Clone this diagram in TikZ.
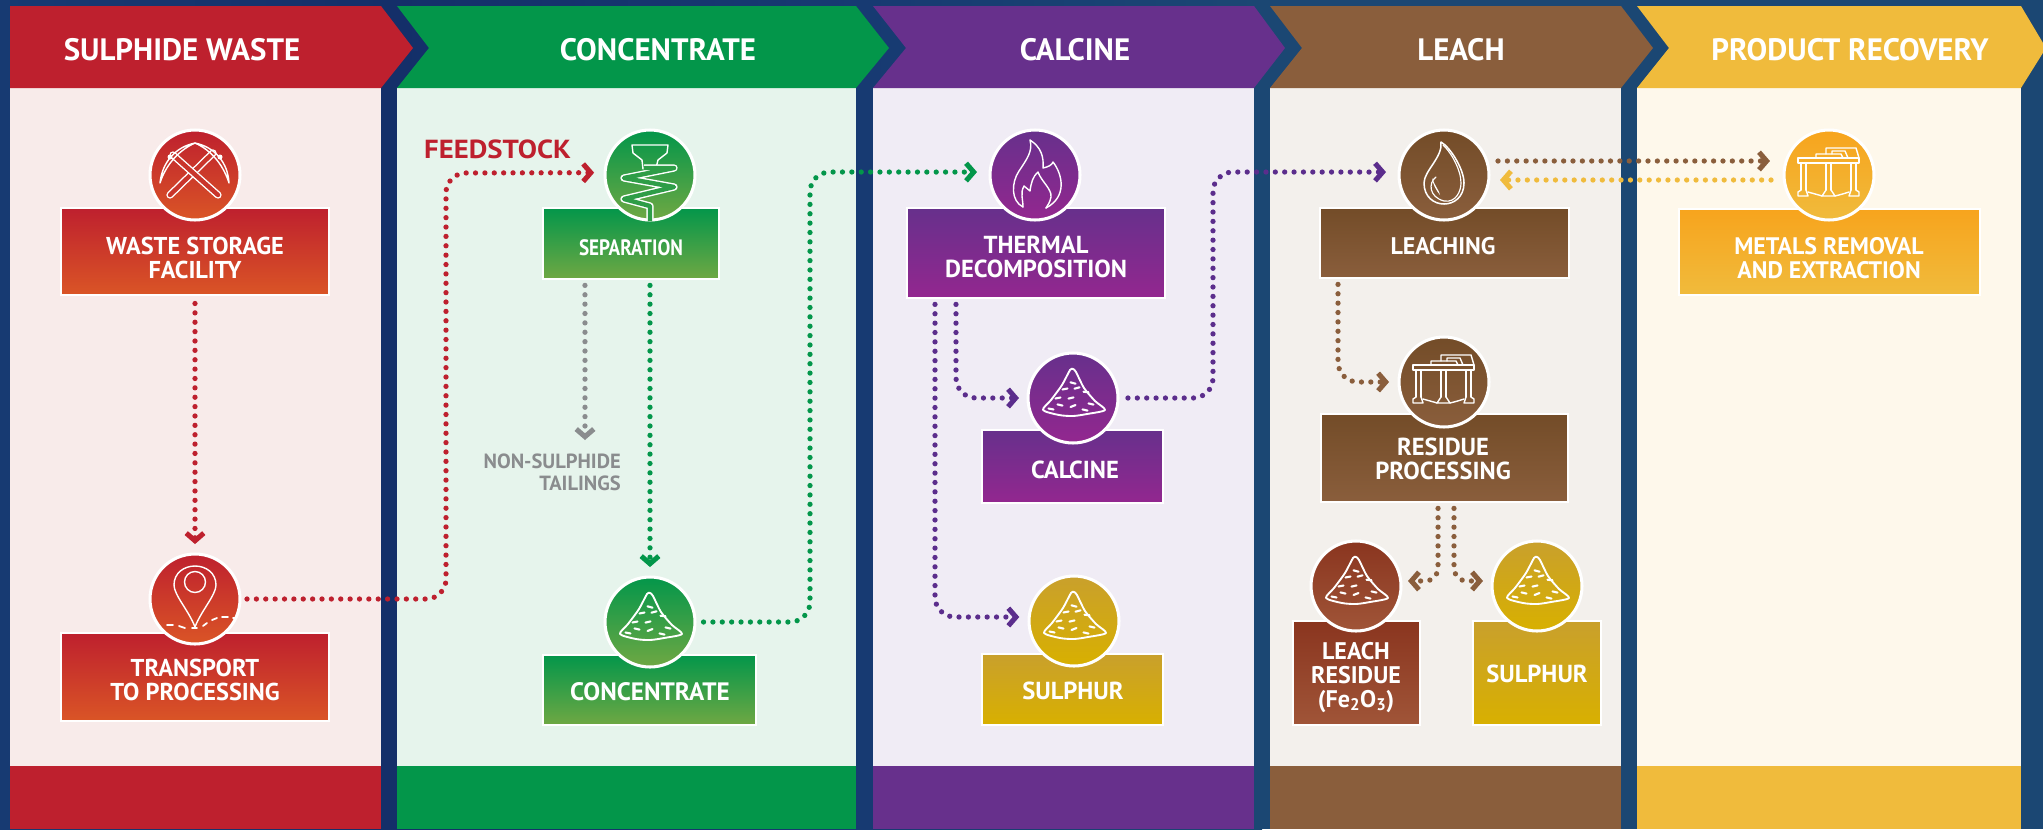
\documentclass[tikz,border=0pt]{standalone}
\usepackage{fontspec}
\setmainfont{PT Sans}
\usetikzlibrary{arrows.meta}
\definecolor{cRed}{HTML}{BE202E}\definecolor{cRedB}{HTML}{DA5526}\definecolor{cRedL}{HTML}{F8EBEA}
\definecolor{cGrn}{HTML}{03964A}\definecolor{cGrnB}{HTML}{6FA843}\definecolor{cGrnL}{HTML}{E6F4EC}
\definecolor{cPur}{HTML}{67308C}\definecolor{cPurB}{HTML}{93278F}\definecolor{cPurL}{HTML}{F0ECF5}
\definecolor{cBrn}{HTML}{8A5E3C}\definecolor{cBrnT}{HTML}{734C28}\definecolor{cBrnL}{HTML}{F3F0EC}
\definecolor{cYel}{HTML}{F0BB3C}\definecolor{cAmb}{HTML}{F7A41D}\definecolor{cYelL}{HTML}{FEF8EB}
\definecolor{cRust}{HTML}{8A351F}\definecolor{cRustB}{HTML}{A05538}
\definecolor{cSul}{HTML}{C9A02C}\definecolor{cSulB}{HTML}{D8B000}
\definecolor{cGry}{HTML}{8A8C8E}
\definecolor{cDots}{HTML}{5B2D8C}
\definecolor{navA}{HTML}{173A72}\definecolor{navB}{HTML}{142F69}\definecolor{navC}{HTML}{1B4773}
\tikzset{
 hdr/.style={font=\fontsize{26.4}{30}\selectfont\bfseries,text=white,inner sep=0pt},
 lbl/.style={font=\fontsize{#1}{20.3}\selectfont\bfseries,text=white,align=center,inner sep=0pt},
 lbl/.default=20.8,
 grad/.style n args={2}{top color=#1,bottom color=#2},
 boxnode/.style={draw=white,line width=0.9pt,rectangle,inner sep=0pt},
 disc/.style={circle,draw=white,line width=2.6pt,inner sep=0pt,minimum size=76.8pt},
 chev/.tip={Straight Barb[length=6.5pt,width=15pt,line width=4.3pt]},
 dots/.style={line width=4.5pt,dash pattern=on 0pt off 8pt,line cap=round,rounded corners=17pt,-chev},
 ico/.style={draw=white,line width=1.2pt,line join=round,line cap=round},
 tube/.style={draw=white,line width=1.2pt,double=dbl,double distance=3.8pt},
 iconpile/.pic={
  \draw[ico,line width=1.6pt] plot[smooth cycle,tension=0.45] coordinates{(-3,-28)(0,-29)(3,-26)(11,-10)(22,3)(32,12)(14,16)(0,18)(-14,17)(-30,12)(-22,2)(-11,-13)};
  \foreach \a/\b/\s in {0/-15/0.7,-8/-9/-0.5,4/-10/-0.7,-15/0/-0.5,-2/0/-0.6,13/-6/0.3,18/6/0.6,0/8/-1,-13/7/0.6,-22/11/0.5,12/12/0.6}
   \draw[ico,line width=1.8pt] (\a-2.5,\b-\s) -- (\a+2.5,\b+\s);
 },
 iconpick/.pic={
  \draw[tube,line cap=round] (-25,20) -- (18,-22);
  \draw[tube,line cap=round] (23,20) -- (-22,-20);
  \draw[ico] (0,-32) .. controls (-20,-28) and (-33,-12) .. (-35,8) .. controls (-30,-8) and (-18,-24) .. cycle;
  \draw[ico] (0,-32) .. controls (20,-28) and (33,-12) .. (34,8) .. controls (29,-8) and (18,-24) .. cycle;
  \fill[white] (-25,-18) circle (2.5);
  \fill[white] (25,-18) circle (2.5);
 },
 iconspiral/.pic={
  \draw[ico] (-7,-6) -- (-8,-15) -- (-17,-22) -- (-18,-30) -- (18,-30) -- (17,-22) -- (8,-15) -- (6,-7);
  \draw[tube,line join=round] (-6,-7) -- (24,-7) -- (-26,3) -- (24,12) -- (-26,24) -- (0,31) -- (0,46);
 },
 iconflame/.pic={
  \draw[ico] (-12,32) .. controls (-24,26) and (-24,8) .. (-16,-4) .. controls (-8,-16) and (-2,-24) .. (-5,-35) .. controls (6,-28) and (9,-18) .. (8,-7) .. controls (13,-8) and (17,-10) .. (18,-13) .. controls (28,0) and (32,22) .. (11,33);
  \draw[ico] (-12,32) .. controls (-12,24) and (-15,18) .. (-11,11) .. controls (-9,12) and (-7,15) .. (-5,16) .. controls (-4,8) and (-2,1) .. (3,-3) .. controls (6,6) and (17,14) .. (16,22) .. controls (15,27) and (13,30) .. (11,33);
 },
 icondrop/.pic={
  \draw[ico,line width=1.3pt] (-3,-33) .. controls (6,-28) and (20,-6) .. (20,8) .. controls (20,22) and (10,29) .. (0,29) .. controls (-10,29) and (-20,22) .. (-20,8) .. controls (-20,-4) and (-1,-18) .. cycle;
  \draw[ico,line width=1pt] (-8,2) .. controls (-16,8) and (-15,22) .. (0,26) .. controls (12,28) and (17,16) .. (17,8) .. controls (17,-6) and (6,-24) .. (-1,-30);
  \fill[white] (-12,3) .. controls (-11,10) and (-8,15) .. (-4,20) .. controls (-5,15) and (-8,13) .. cycle;
 },
 icontank/.pic={
  \draw[ico] (-31,-17) rectangle (30,-12);
  \draw[ico] (-13,-17) -- (-13,-21) -- (12,-21) -- (14,-17);
  \draw[ico] (-3,-21) -- (-3,-27) -- (27,-27) -- (30,-17);
  \draw[ico] (3,-21) -- (3,-24) -- (16,-24) -- (19,-17);
  \foreach \a in {-28,-23,-3,2,22,27} \draw[ico] (\a,-12) -- (\a,15);
  \draw[ico] (-23,15) -- (-21,21) -- (-31,21) -- (-31,17) -- (-28,15);
  \draw[ico] (27,15) -- (30,17) -- (30,21) -- (20,21) -- (22,15);
  \draw[ico] (-3,15) -- (-7,21) -- (6,21) -- (2,15);
  \draw[ico] (-21,17) .. controls (-14,19) and (-10,20) .. (-7,21);
  \draw[ico] (20,17) .. controls (14,19) and (10,20) .. (6,21);
 },
 iconpin/.pic={
  \draw[ico] (0,28) .. controls (-6,12) and (-21,-4) .. (-21,-14) .. controls (-21,-26) and (-11,-33) .. (0,-33) .. controls (11,-33) and (21,-26) .. (21,-14) .. controls (21,-4) and (6,12) .. cycle;
  \draw[ico] (0,-17) circle (10.5);
  \foreach \a/\b/\c/\d in {-28/26/-22/26,-16/27/-10/29,-3/29/2/29,8/27/12/24,17/21/22/19,27/18/33/18,38/19/40/19}
   \draw[ico,line width=1.5pt] (\a,\b) -- (\c,\d);
 },
}
\newcommand{\panel}[6]{% left, right, notch, tip, head colour, light colour
 \fill[#6] (#1,88) rectangle (#2,766);
 \fill[#5] (#1,766) rectangle (#2,829);
 \fill[#5] (#1,6) -- (#2,6) -- (#4,48) -- (#2,88) -- (#1,88) -- (#3,48) -- cycle;
}
\newcommand{\procbox}[7]{% name,x,y,w,h,top,bottom
 \node[boxnode,grad={#6}{#7},minimum width={#4*0.03cm},minimum height={#5*0.03cm}] (#1) at (#2,#3) {};
}
\newcommand{\iconDisc}[5]{% name,x,y,top,bottom
 \node[disc,grad={#4}{#5}] (#1) at (#2,#3) {};
}
\begin{document}
\begin{tikzpicture}[x=0.03cm,y=-0.03cm]
\clip (0,0) rectangle (2043,829);
\fill[navC] (0,0) rectangle (2043,829);
\shade[left color=navA,right color=navB] (0,0) rectangle (390,829);
\shade[left color=navB,right color=navA] (390,0) rectangle (865,829);
\shade[left color=navA,right color=navC] (865,0) rectangle (1262,829);
\panel{10}{381}{10}{413}{cRed}{cRedL}
\panel{397}{856}{429}{889}{cGrn}{cGrnL}
\panel{873}{1254}{906}{1285}{cPur}{cPurL}
\panel{1270}{1621}{1302}{1653}{cBrn}{cBrnL}
\panel{1637}{2021}{1669}{2046}{cYel}{cYelL}

\node[hdr] (h1) at (182,50) {SULPHIDE WASTE};
\node[hdr] (h2) at (658,50) {CONCENTRATE};
\node[hdr] (h3) at (1075,50) {CALCINE};
\node[hdr] (h4) at (1461,50) {LEACH};
\node[hdr] (h5) at (1850,50) {PRODUCT RECOVERY};

\procbox{bWaste}{195}{251.5}{268}{87}{cRed}{cRedB}
\procbox{bTrans}{195}{677}{268}{88}{cRed}{cRedB}
\procbox{bSep}{631}{243.5}{176}{71}{cGrn}{cGrnB}
\procbox{bConc}{649.5}{690}{213}{70}{cGrn}{cGrnB}
\procbox{bTherm}{1036}{253}{258}{90}{cPur}{cPurB}
\procbox{bCalc}{1072.5}{466.5}{181}{73}{cPur}{cPurB}
\procbox{bSulA}{1072.5}{689.5}{181}{71}{cSul}{cSulB}
\procbox{bLeach}{1444.5}{243}{249}{70}{cBrnT}{cBrn}
\procbox{bRes}{1444.5}{458}{247}{88}{cBrnT}{cBrn}
\procbox{bLR}{1356.5}{673}{127}{104}{cRust}{cRustB}
\procbox{bSulB}{1537}{673}{128}{104}{cSul}{cSulB}
\procbox{bMet}{1829.5}{252}{301}{86}{cAmb}{cYel}

\iconDisc{cWaste}{195}{175}{cRed}{cRedB}
\iconDisc{cTrans}{195}{599}{cRed}{cRedB}
\iconDisc{cSep}{650}{175}{cGrn}{cGrnB}
\iconDisc{cConc}{650}{622}{cGrn}{cGrnB}
\iconDisc{cTherm}{1035}{175}{cPur}{cPurB}
\iconDisc{cCalc}{1073}{398}{cPur}{cPurB}
\iconDisc{cSulA}{1074}{621}{cSul}{cSulB}
\iconDisc{cLeach}{1444}{175}{cBrnT}{cBrn}
\iconDisc{cRes}{1444}{382}{cBrnT}{cBrn}
\iconDisc{cLR}{1356}{586}{cRust}{cRustB}
\iconDisc{cSulBB}{1537}{586}{cSul}{cSulB}
\iconDisc{cMet}{1829}{175}{cAmb}{cYel}

\colorlet{dbl}{cRed!60!cRedB}
\pic at (cWaste) {iconpick};
\pic at (cTrans) {iconpin};
\colorlet{dbl}{cGrn!60!cGrnB}
\pic at (cSep) {iconspiral};
\pic at (cConc) {iconpile};
\pic at (cTherm) {iconflame};
\pic at (cCalc) {iconpile};
\pic at (cSulA) {iconpile};
\pic at (cLeach) {icondrop};
\pic at (cRes) {icontank};
\pic at (cLR) {iconpile};
\pic at (cSulBB) {iconpile};
\pic at (cMet) {icontank};

\node[lbl] (tWaste) at (195,258) {WASTE STORAGE\\FACILITY};
\node[lbl] (tTrans) at (195,680) {TRANSPORT\\TO PROCESSING};
\node[lbl=19] (tSep) at (631,248) {\scalebox{0.86}[1]{SEPARATION}};
\node[lbl=21.5] (tConc) at (650,692) {CONCENTRATE};
\node[lbl=21] (tTherm) at (1036,257) {THERMAL\\DECOMPOSITION};
\node[lbl=21] (tCalc) at (1075,470) {CALCINE};
\node[lbl=21] (tSulA) at (1073,691) {SULPHUR};
\node[lbl=20.5] (tLeach) at (1443,246) {LEACHING};
\node[lbl=21] (tRes) at (1443,459) {RESIDUE\\PROCESSING};
\node[lbl=20.5] (tLR) at (1356,677.5) {LEACH\\RESIDUE\\(Fe\textsubscript{2}O\textsubscript{3})};
\node[lbl=21] (tSulB) at (1537,674) {SULPHUR};
\node[lbl=20.4] (tMet) at (1829,258) {METALS REMOVAL\\AND EXTRACTION};
\node[font=\fontsize{22.3}{24}\selectfont\bfseries,text=cRed,inner sep=0pt,anchor=west] (feed) at (424,149) {\scalebox{1.1}[1]{FEEDSTOCK}};
\node[font=\fontsize{17.5}{18.8}\selectfont\bfseries,text=cGry,align=right,inner sep=0pt,anchor=east] (tail) at (621,472) {NON-SULPHIDE\\TAILINGS};

% bends and free ends
\coordinate (r1) at (446,599);
\coordinate (r2) at (446,173);
\coordinate (g1) at (810,622);
\coordinate (g2) at (810,172);
\coordinate (gEnd) at (585,440);
\coordinate (p1) at (935,617);
\coordinate (p2) at (956,398);
\coordinate (p3) at (1213,398);
\coordinate (p4) at (1213,172);
\coordinate (w1) at (1338,382);
\coordinate (w2) at (1438,581);
\coordinate (w3) at (1454,581);

\draw[dots,cRed,shorten <=6.8pt,shorten >=7.2pt] (bWaste.south) -- (cTrans.north);
\draw[dots,cRed,shorten <=4.7pt,shorten >=8pt] (cTrans.east) -- (r1) -- (r2) -- ([yshift=2pt]cSep.west);
\draw[dots,cGry,shorten <=5pt] ([xshift=-39.3pt]bSep.south) -- (gEnd);
\draw[dots,cGrn,shorten <=5pt,shorten >=7.2pt] ([xshift=16.2pt]bSep.south) -- (cConc.north);
\draw[dots,cGrn,shorten <=6pt,shorten >=9.8pt] (cConc.east) -- (g1) -- (g2) -- ([yshift=2.5pt]cTherm.west);
\draw[dots,cDots,shorten <=5pt,shorten >=7pt] ([xshift=-86.2pt]bTherm.south) -- (p1) -- ([yshift=3.4pt]cSulA.west);
\draw[dots,cDots,shorten <=5pt,shorten >=6.4pt] ([xshift=-68.3pt]bTherm.south) -- (p2) -- (cCalc.west);
\draw[dots,cDots,shorten <=7.2pt,shorten >=9.8pt] (cCalc.east) -- (p3) -- (p4) -- ([yshift=2.5pt]cLeach.west);
\draw[dots,cBrn,shorten <=5pt,shorten >=7.2pt] ([xshift=-90.9pt]bLeach.south) -- (w1) -- (cRes.west);
\draw[dots,cBrn,rounded corners=11pt,shorten <=5pt,shorten >=4.7pt] ([xshift=-5.5pt]bRes.south) -- (w2) -- ([yshift=4.3pt]cLR.east);
\draw[dots,cBrn,rounded corners=11pt,shorten <=5pt,shorten >=6.4pt] ([xshift=8.1pt]bRes.south) -- (w3) -- ([yshift=4.3pt]cSulBB.west);
\draw[dots,cBrn,shorten <=6.4pt,shorten >=10.7pt] ([yshift=11.95pt]cLeach.east) -- ([yshift=11.95pt]cMet.west);
\draw[dots,cYel,shorten <=9.8pt,shorten >=8.1pt] ([yshift=-4.27pt]cMet.west) -- ([yshift=-4.27pt]cLeach.east);
\end{tikzpicture}
\end{document}
